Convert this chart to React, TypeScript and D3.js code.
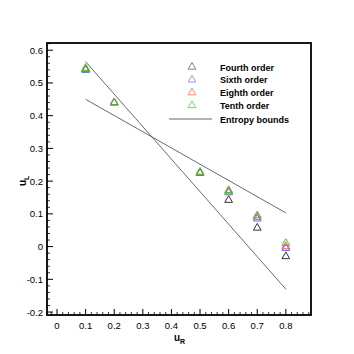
import React from 'react'
import * as d3 from 'd3'

// sample points (u_R) and u_L values for each scheme order
const uR = [0.1, 0.2, 0.5, 0.6, 0.7, 0.8]
const fourthOrder = [0.54, 0.44, 0.225, 0.142, 0.057, -0.03]
const sixthOrder = [0.54, 0.44, 0.225, 0.165, 0.085, -0.005]
const eighthOrder = [0.542, 0.44, 0.226, 0.168, 0.09, 0.0]
const tenthOrder = [0.545, 0.44, 0.228, 0.172, 0.095, 0.01]

// entropy bound lines
const boundUpper = [[0.1, 0.565], [0.8, -0.13]]
const boundLower = [[0.1, 0.45], [0.8, 0.103]]

const xTicks = [0, 0.1, 0.2, 0.3, 0.4, 0.5, 0.6, 0.7, 0.8]
const yTicks = [-0.2, -0.1, 0, 0.1, 0.2, 0.3, 0.4, 0.5, 0.6]

const seriesNames = ['Fourth order', 'Sixth order', 'Eighth order', 'Tenth order']
const seriesColors = ['#333333', '#6a6aff', '#ff5533', '#33cc33']
const legendColors = ['#777777', '#8888ff', '#ff7766', '#55dd55']

export default function App() {
  const left = 47, right = 311, top = 43, bottom = 315
  const x = d3.scaleLinear().domain([-0.035, 0.888]).range([left, right])
  const y = d3.scaleLinear().domain([-0.209, 0.622]).range([bottom, top])

  const tri = d3.symbol(d3.symbolTriangle, 26)()
  const series = [fourthOrder, sixthOrder, eighthOrder, tenthOrder]

  const xMinor = d3.range(-0.02, 0.881, 0.02).filter(v => Math.abs(Math.round(v * 10) - v * 10) > 0.01)
  const yMinor = d3.range(-0.18, 0.621, 0.02).filter(v => Math.abs(Math.round(v * 10) - v * 10) > 0.01)

  const line = d3.line<number[]>().x(d => x(d[0])).y(d => y(d[1]))
  const font = 'Liberation Sans, Arial, sans-serif'

  return (
    <svg width={354} height={354} style={{ position: 'absolute', left: 0, top: 0, background: '#fff' }}
      fontFamily={font}>
      {/* bounds */}
      <path d={line(boundUpper) || ''} stroke="#444" strokeWidth={0.8} fill="none" />
      <path d={line(boundLower) || ''} stroke="#444" strokeWidth={0.8} fill="none" />

      {/* markers */}
      {series.map((s, si) => (
        <g key={si}>
          {s.map((v, i) => (
            <path key={i} d={tri || ''} transform={`translate(${x(uR[i])},${y(v)})`}
              fill="none" stroke={seriesColors[si]} strokeWidth={1} />
          ))}
        </g>
      ))}

      {/* frame */}
      <rect x={left} y={top} width={right - left} height={bottom - top} fill="none" stroke="#000" strokeWidth={1.8} />

      {/* x ticks */}
      {xTicks.map(t => (
        <g key={'x' + t}>
          <line x1={x(t)} x2={x(t)} y1={bottom} y2={bottom - 6} stroke="#000" strokeWidth={1} />
          <text x={x(t)} y={bottom + 14} fontSize={9.5} textAnchor="middle">{t === 0 ? '0' : d3.format('.1f')(t)}</text>
        </g>
      ))}
      {xMinor.map(t => (
        <line key={'xm' + t} x1={x(t)} x2={x(t)} y1={bottom} y2={bottom - 3} stroke="#000" strokeWidth={0.8} />
      ))}

      {/* y ticks */}
      {yTicks.map(t => (
        <g key={'y' + t}>
          <line x1={left} x2={left + 6} y1={y(t)} y2={y(t)} stroke="#000" strokeWidth={1} />
          <text x={left - 4} y={y(t) + 3.5} fontSize={9.5} textAnchor="end">{t === 0 ? '0' : d3.format('.1f')(t).replace('−', '-')}</text>
        </g>
      ))}
      {yMinor.map(t => (
        <line key={'ym' + t} x1={left} x2={left + 3} y1={y(t)} y2={y(t)} stroke="#000" strokeWidth={0.8} />
      ))}

      {/* axis labels */}
      <text x={174} y={341} fontSize={10} fontWeight="bold">u<tspan fontSize={7} dy={3}>R</tspan></text>
      <text transform="translate(26,186) rotate(-90)" fontSize={10} fontWeight="bold">u<tspan fontSize={7} dy={3}>L</tspan></text>

      {/* legend */}
      {seriesNames.map((n, i) => (
        <g key={n}>
          <path d={tri || ''} transform={`translate(192,${67 + i * 12.8})`} fill="none" stroke={legendColors[i]} strokeWidth={0.9} />
          <text x={220} y={70.5 + i * 12.8} fontSize={9} fontWeight="bold">{n}</text>
        </g>
      ))}
      <line x1={169} x2={212} y1={119} y2={119} stroke="#555" strokeWidth={0.9} />
      <text x={220} y={122.5} fontSize={9} fontWeight="bold">Entropy bounds</text>
    </svg>
  )
}
